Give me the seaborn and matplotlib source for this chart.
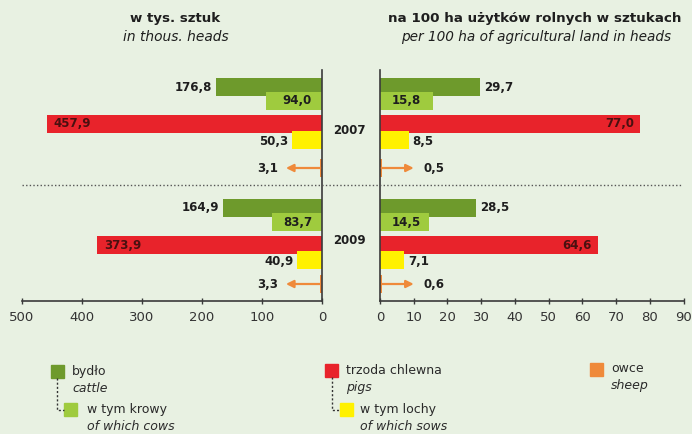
import numpy as np
import pandas as pd
import matplotlib
matplotlib.use("Agg")
import matplotlib.pyplot as plt
import seaborn as sns
from matplotlib.lines import Line2D
from matplotlib.patches import Rectangle

# ---------------- data ----------------
categories = ["bydło", "w tym krowy", "trzoda chlewna", "w tym lochy", "owce"]
categories_en = ["cattle", "of which cows", "pigs", "of which sows", "sheep"]
years = ["2007", "2009"]
thous_2007 = [176.8, 94.0, 457.9, 50.3, 3.1]
thous_2009 = [164.9, 83.7, 373.9, 40.9, 3.3]
per100_2007 = [29.7, 15.8, 77.0, 8.5, 0.5]
per100_2009 = [28.5, 14.5, 64.6, 7.1, 0.6]
left_ticks = [500, 400, 300, 200, 100, 0]
right_ticks = [0, 10, 20, 30, 40, 50, 60, 70, 80, 90]
title_left = ["w tys. sztuk", "in thous. heads"]
title_right = ["na 100 ha użytków rolnych w sztukach",
               "per 100 ha of agricultural land in heads"]

# ---------------- style / layout ----------------
W, H = 692, 434
bg = "#e8f1e2"
colors = ["#6e9a2c", "#9fcb3e", "#e8232b", "#fff100", "#ef8a3a"]
txt = "#1e1e1e"
row_pos = {"2007": [87, 100.5, 123.5, 139.5, 168],
           "2009": [207.5, 222, 245, 259.5, 284]}
bar_h = 18.0
y_top, y_bot = 70, 301
xl0, xl500 = 322, 21.5
xr0, xr90 = 380, 683.7

plt.rcParams["font.family"] = ["DejaVu Sans"]

rows = []
for yr, lv, rv in [("2007", thous_2007, per100_2007), ("2009", thous_2009, per100_2009)]:
    for i, c in enumerate(categories):
        rows.append(dict(year=yr, cat=c, pos=row_pos[yr][i], thous=lv[i], per100=rv[i]))
df = pd.DataFrame(rows)
pal = dict(zip(categories, colors))
min_sp = np.min(np.diff(np.unique(df["pos"].values)))

fig = plt.figure(figsize=(W / 100, H / 100), dpi=100)
fig.patch.set_facecolor(bg)


def fx(px):
    return px / W


def fy(py):
    return 1 - py / H


axL = fig.add_axes([fx(xl500), fy(y_bot), fx(xl0 - xl500), (y_bot - y_top) / H])
axR = fig.add_axes([fx(xr0), fy(y_bot), fx(xr90 - xr0), (y_bot - y_top) / H])

for ax, col in [(axL, "thous"), (axR, "per100")]:
    sns.barplot(data=df, x=col, y="pos", hue="cat", hue_order=categories,
                palette=pal, orient="h", native_scale=True,
                width=bar_h / min_sp, dodge=False, legend=False,
                saturation=1, errorbar=None, ax=ax, linewidth=0)
    ax.set_facecolor("none")
    ax.set_ylim(y_bot, y_top)
    ax.set_yticks([])
    ax.set_xlabel("")
    ax.set_ylabel("")
    ax.spines["top"].set_visible(False)
    for s in ["bottom", "left", "right"]:
        ax.spines[s].set_color("#3a3a3a")
        ax.spines[s].set_linewidth(1.2)
    ax.tick_params(axis="x", direction="inout", length=5, width=1,
                   color="#3a3a3a", labelsize=9.5, labelcolor="#333333", pad=5)

axL.set_xlim(500, 0)
axL.set_xticks(left_ticks)
axL.set_xticklabels([str(t) for t in left_ticks])
axL.spines["left"].set_visible(False)
axR.set_xlim(0, 90)
axR.set_xticks(right_ticks)
axR.set_xticklabels([str(t) for t in right_ticks])
axR.spines["right"].set_visible(False)


def fmt(v):
    return f"{v:.1f}".replace(".", ",")


pt = 0.72  # points per pixel
dark_on_red = "#4a1010"
for yr, lv, rv in [("2007", thous_2007, per100_2007), ("2009", thous_2009, per100_2009)]:
    ps = row_pos[yr]
    kw = dict(textcoords="offset points", va="center", fontsize=8.5,
              fontweight="bold", color=txt)
    kw_red = dict(kw, color=dark_on_red)
    # left panel
    axL.annotate(fmt(lv[0]), (lv[0], ps[0]), xytext=(-4 * pt, 0), ha="right", **kw)
    axL.annotate(fmt(lv[1]), (0, ps[1]), xytext=(-10 * pt, 0), ha="right", **kw)
    axL.annotate(fmt(lv[2]), (lv[2], ps[2]), xytext=(7 * pt, 0), ha="left", **kw_red)
    axL.annotate(fmt(lv[3]), (lv[3], ps[3] + 1.5), xytext=(-4 * pt, 0), ha="right", **kw)
    axL.annotate(fmt(lv[4]), (0, ps[4]), xytext=(-44 * pt, 0), ha="right", **kw)
    axL.annotate("", xy=(60, ps[4]), xytext=(lv[4], ps[4]),
                 arrowprops=dict(arrowstyle="-|>", color=colors[4], lw=1.6,
                                 mutation_scale=11, shrinkA=0, shrinkB=0))
    # right panel
    axR.annotate(fmt(rv[0]), (rv[0], ps[0]), xytext=(4 * pt, 0), ha="left", **kw)
    axR.annotate(fmt(rv[1]), (0, ps[1]), xytext=(12 * pt, 0), ha="left", **kw)
    axR.annotate(fmt(rv[2]), (rv[2], ps[2]), xytext=(-6 * pt, 0), ha="right", **kw_red)
    axR.annotate(fmt(rv[3]), (rv[3], ps[3] + 1.5), xytext=(4 * pt, 0), ha="left", **kw)
    axR.annotate(fmt(rv[4]), (0, ps[4]), xytext=(43 * pt, 0), ha="left", **kw)
    axR.annotate("", xy=(10, ps[4]), xytext=(rv[4], ps[4]),
                 arrowprops=dict(arrowstyle="-|>", color=colors[4], lw=1.6,
                                 mutation_scale=11, shrinkA=0, shrinkB=0))

# year labels
for yr, py in zip(years, [130.5, 241]):
    fig.text(fx(349.5), fy(py), yr, ha="center", va="center", fontsize=8.5,
             fontweight="bold", color=txt)

# separator
fig.add_artist(Line2D([fx(22), fx(681)], [fy(185), fy(185)], color="#555555",
                      lw=1, linestyle=(0, (1, 1.6))))

# headers
fig.text(fx(175), fy(18.5), title_left[0], ha="center", va="center",
         fontsize=9.6, fontweight="bold", color=txt)
fig.text(fx(175.5), fy(37), title_left[1], ha="center", va="center",
         fontsize=9.9, style="italic", color=txt)
fig.text(fx(534.5), fy(18.5), title_right[0], ha="center", va="center",
         fontsize=9.7, fontweight="bold", color=txt)
fig.text(fx(536), fy(37), title_right[1], ha="center", va="center",
         fontsize=9.8, style="italic", color=txt)


# legend
def sq(x, y, c, s=13):
    fig.add_artist(Rectangle((fx(x), fy(y + s)), s / W, s / H, color=c,
                             transform=fig.transFigure))


def ltext(x, y, s, italic=False):
    fig.text(fx(x), fy(y), s, ha="left", va="center", fontsize=9,
             style="italic" if italic else "normal", color="#2a2a2a")


def connector(x0, y0, y1, x1):
    fig.add_artist(Line2D([fx(x0), fx(x0), fx(x1)], [fy(y0), fy(y1), fy(y1)],
                          color="#333333", lw=1, linestyle=(0, (1.5, 1.5))))


leg = [  # (square x, square y, text x, category index)
    (51, 365, 72, 0),
    (64, 403, 87, 1),
    (325, 364, 346, 2),
    (340, 403, 360, 3),
    (590, 363, 611, 4),
]
connector(57.5, 378, 410, 64)
connector(331.5, 377, 410, 340)
for sx, sy, tx, i in leg:
    sq(sx, sy, colors[i])
    ltext(tx, sy + 6, categories[i])
    ltext(tx, sy + 23, categories_en[i], italic=True)

fig.savefig("out.png", dpi=100, facecolor=bg)
